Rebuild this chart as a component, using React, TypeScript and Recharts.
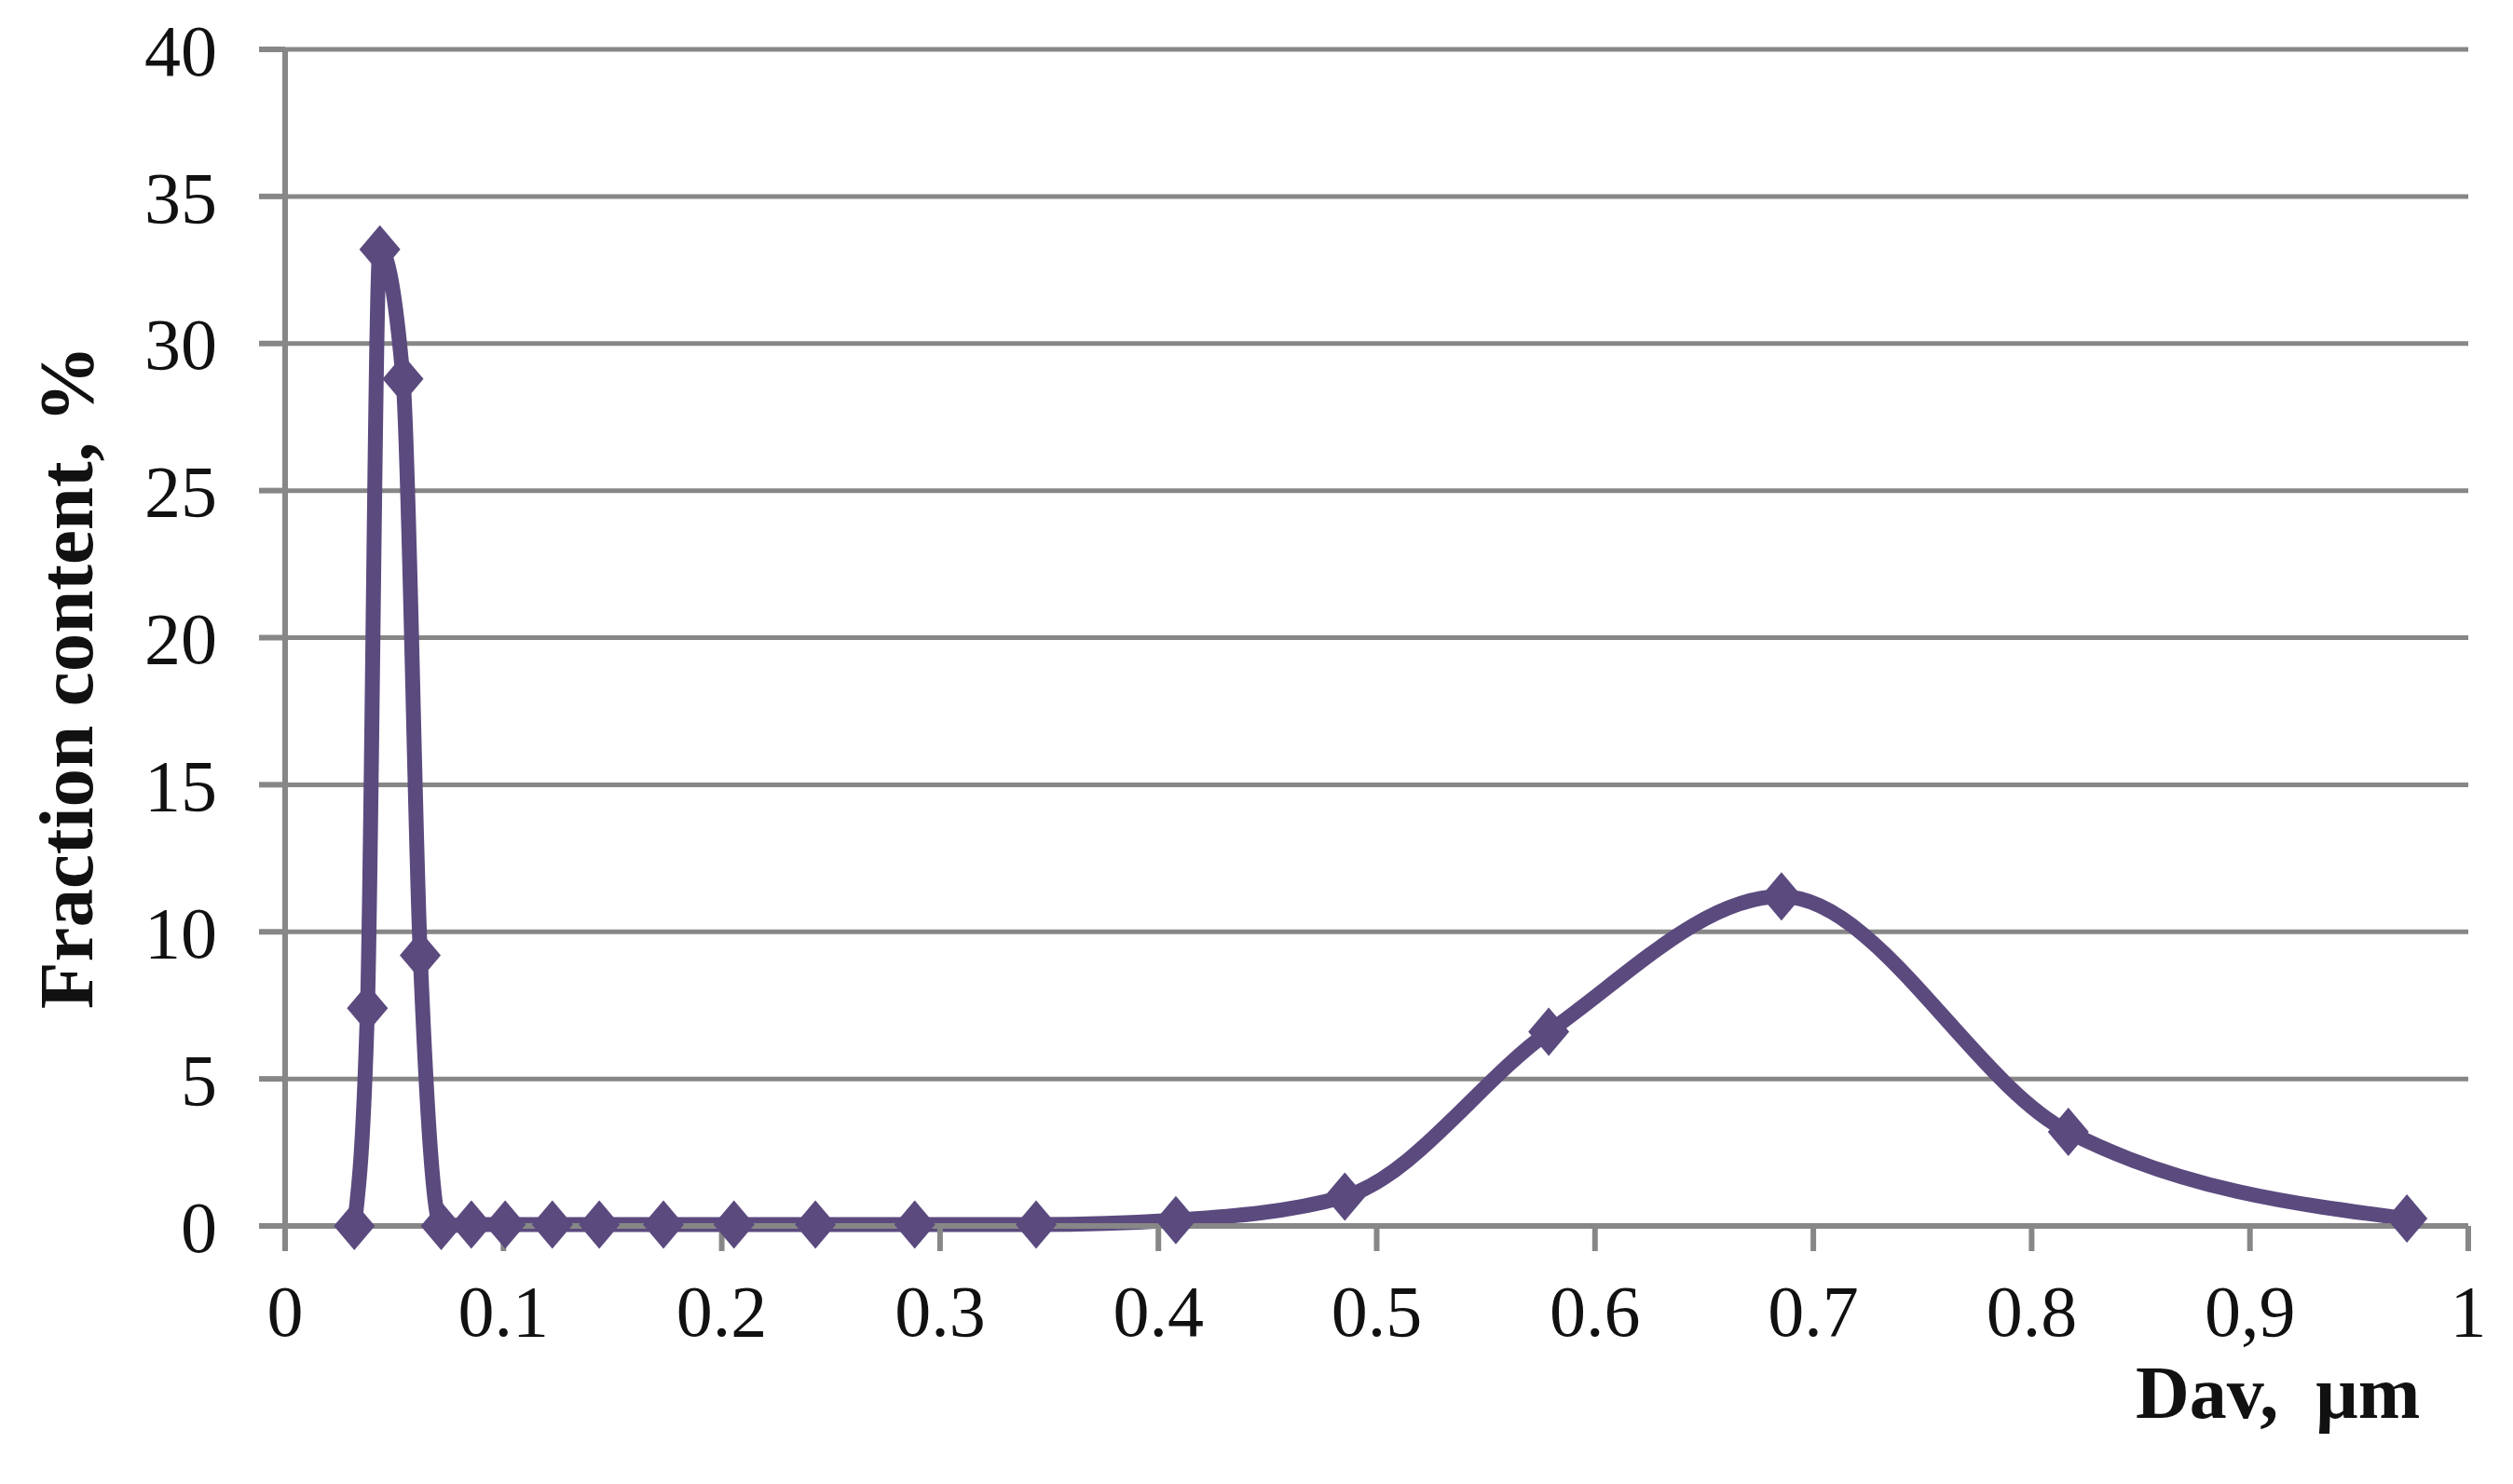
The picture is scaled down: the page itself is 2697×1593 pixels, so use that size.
import { LineChart, Line, XAxis, YAxis, CartesianGrid } from "recharts";

const dav = [
  0.0317, 0.0377, 0.0434, 0.054, 0.0619, 0.0715, 0.0853, 0.1008, 0.1224, 0.1439, 0.1733,
  0.2056, 0.2429, 0.2884, 0.344, 0.408, 0.4854, 0.5788, 0.6854, 0.8168, 0.9719,
];
const fraction = [
  0, 7.4, 33.2, 28.8, 9.2, 0, 0.05, 0.05, 0.05, 0.05, 0.05, 0.05, 0.05, 0.05, 0.05, 0.2,
  1.0, 6.6, 11.2, 3.2, 0.25,
];

const xTicks = [0, 0.1, 0.2, 0.3, 0.4, 0.5, 0.6, 0.7, 0.8, 0.9, 1];
const xTickLabels = ["0", "0.1", "0.2", "0.3", "0.4", "0.5", "0.6", "0.7", "0.8", "0,9", "1"];
const yTicks = [0, 5, 10, 15, 20, 25, 30, 35, 40];

const data = dav.map((d, i) => ({ dav: d, fraction: fraction[i] }));

const LINE = "#5b4a7e";
const GRID = "#878787";
const FONT = "'Liberation Serif', 'Times New Roman', serif";

// diamond markers like the excel original
function Diamond(props: any) {
  const { cx, cy, index } = props;
  if (cx == null || cy == null) return <g key={index} />;
  const w = 22;
  const h = 26;
  return (
    <path
      key={index}
      d={`M${cx},${cy - h} L${cx + w},${cy} L${cx},${cy + h} L${cx - w},${cy} Z`}
      fill={LINE}
    />
  );
}

export default function App() {
  return (
    <div style={{ position: "absolute", left: 0, top: 0, width: 2697, height: 1593, background: "#fff" }}>
      <LineChart width={2697} height={1593} data={data} margin={{ top: 53, right: 48, bottom: 0, left: 0 }}>
        <CartesianGrid horizontal vertical={false} stroke={GRID} strokeWidth={5} />
        <XAxis
          dataKey="dav"
          type="number"
          domain={[0, 1]}
          ticks={xTicks}
          tickFormatter={(v: number) => xTickLabels[Math.round(v * 10)]}
          height={277}
          stroke={GRID}
          strokeWidth={6}
          tickSize={27}
          tickMargin={36}
          tick={{ fill: "#111", fontSize: 78, fontFamily: FONT }}
          interval={0}
        />
        <YAxis
          type="number"
          domain={[0, 40]}
          ticks={yTicks}
          width={306}
          stroke={GRID}
          strokeWidth={6}
          tickSize={28}
          tickMargin={45}
          tick={{ fill: "#111", fontSize: 78, fontFamily: FONT }}
          interval={0}
        />
        <Line
          type="monotone"
          dataKey="fraction"
          stroke={LINE}
          strokeWidth={16}
          strokeLinejoin="round"
          dot={Diamond}
          activeDot={false}
          isAnimationActive={false}
        />
      </LineChart>

      {/* axis titles */}
      <div
        style={{
          position: "absolute",
          left: 71,
          top: 727,
          transform: "translate(-50%, -50%) rotate(-90deg)",
          whiteSpace: "nowrap",
          fontFamily: FONT,
          fontWeight: "bold",
          fontSize: 83,
          lineHeight: 1,
          color: "#111",
        }}
      >
        Fraction content, %
      </div>
      <div
        style={{
          position: "absolute",
          left: 2292,
          top: 1455,
          whiteSpace: "pre",
          fontFamily: FONT,
          fontWeight: "bold",
          fontSize: 80,
          lineHeight: 1,
          color: "#111",
        }}
      >
        Dav,  μm
      </div>
    </div>
  );
}
